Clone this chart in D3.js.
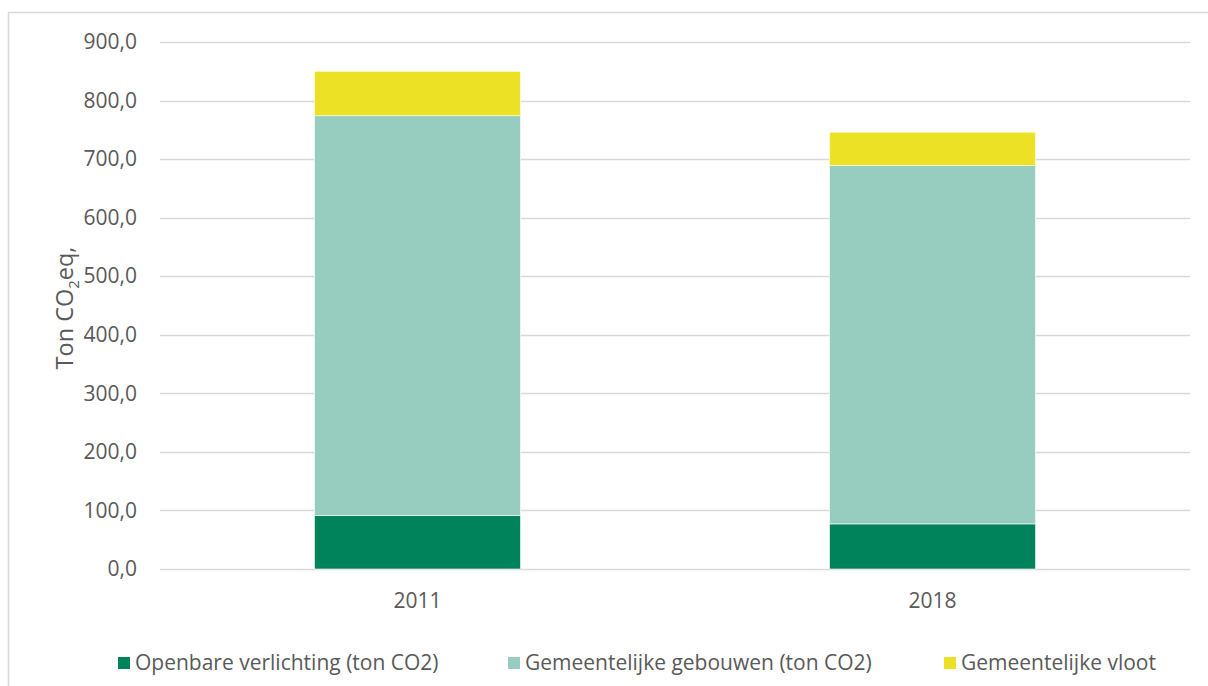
<!DOCTYPE html>
<html><head><meta charset="utf-8">
<script src="https://cdn.jsdelivr.net/npm/d3@7"></script>
<style>
html,body{margin:0;padding:0;background:#fff;}
svg text{font-family:"Open Sans","Noto Sans",sans-serif;fill:#595959;}
</style></head>
<body>
<svg id="c" width="1208" height="686"></svg>
<script>
const categories = ["2011", "2018"];
const seriesNames = ["Openbare verlichting (ton CO2)", "Gemeentelijke gebouwen (ton CO2)", "Gemeentelijke vloot"];
const openbareVerlichting = [91, 77];
const gemeentelijkeGebouwen = [683, 612];
const gemeentelijkeVloot = [76, 57];
const yTicks = [0, 100, 200, 300, 400, 500, 600, 700, 800, 900];
const colors = ["#00825A", "#97CDBE", "#EDE126"];

(function(){
const svg = d3.select("#c");
svg.append("rect").attr("x", 8.5).attr("y", 12.5).attr("width", 1220).attr("height", 700)
  .attr("fill", "none").attr("stroke", "#d9d9d9").attr("stroke-width", 1.5);

const pLeft = 160, pRight = 1190, pTop = 42, pBottom = 569;
const x = d3.scaleBand().domain(categories).range([pLeft, pRight]).paddingInner(0.6).paddingOuter(0.3);
const y = d3.scaleLinear().domain([0, 900]).range([pBottom, pTop]);

const fmt = v => d3.format(".1f")(v).replace(".", ",");

svg.append("g").selectAll("line").data(yTicks).join("line")
  .attr("x1", pLeft).attr("x2", pRight)
  .attr("y1", d => Math.round(y(d)) + 0.5).attr("y2", d => Math.round(y(d)) + 0.5)
  .attr("stroke", "#d9d9d9").attr("stroke-width", 1.3);

const yAxis = d3.axisLeft(y).tickValues(yTicks).tickFormat(fmt).tickSize(0).tickPadding(0);
const ya = svg.append("g").attr("transform", `translate(137,0)`).call(yAxis);
ya.select(".domain").remove();
ya.selectAll("text").attr("font-size", 21).attr("fill", "#595959")
  .style("font-family", '"Open Sans","Noto Sans",sans-serif');

const xAxis = d3.axisBottom(x).tickSize(0).tickPadding(0);
const xa = svg.append("g").attr("transform", `translate(0,${pBottom + 24})`).call(xAxis);
xa.select(".domain").remove();
xa.selectAll("text").attr("font-size", 21).attr("fill", "#595959")
  .style("font-family", '"Open Sans","Noto Sans",sans-serif');

const rows = categories.map((c, i) => ({cat: c, s0: openbareVerlichting[i], s1: gemeentelijkeGebouwen[i], s2: gemeentelijkeVloot[i]}));
const stack = d3.stack().keys(["s0", "s1", "s2"])(rows);
svg.append("g").selectAll("g").data(stack).join("g")
  .attr("fill", (d, i) => colors[i])
  .selectAll("rect").data(d => d).join("rect")
  .attr("x", d => x(d.data.cat)).attr("width", x.bandwidth())
  .attr("y", d => y(d[1])).attr("height", d => y(d[0]) - y(d[1]))
  .attr("stroke", "#ffffff").attr("stroke-width", 0.6);

const yt = svg.append("text").attr("transform", "translate(73,308) rotate(-90)")
  .attr("text-anchor", "middle").attr("font-size", 23.5);
yt.append("tspan").text("Ton CO");
yt.append("tspan").text("2").attr("font-size", 15).attr("dy", 6);
yt.append("tspan").text("eq,").attr("dy", -6);

const legX = [118, 508, 944];
const lg = svg.append("g").selectAll("g").data(seriesNames).join("g")
  .attr("transform", (d, i) => `translate(${legX[i]},657)`);
lg.append("rect").attr("width", 12).attr("height", 12).attr("fill", (d, i) => colors[i]);
lg.append("text").attr("x", 17).attr("y", 13).attr("font-size", 21).text(d => d);
})();
</script>
</body></html>
